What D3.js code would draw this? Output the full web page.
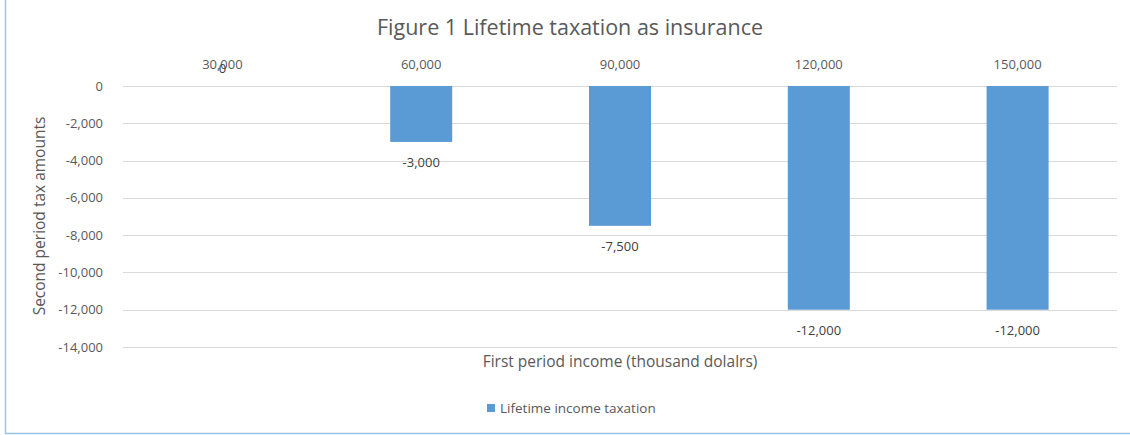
<!doctype html>
<html>
<head>
  <meta charset="utf-8">
  <style type="text/css">
    body { margin: 0; background: #fff; }
    text { font-family: "Open Sans", Lato, sans-serif; fill: #595959; }
    .grid line { stroke: #d9d9d9; stroke-width: 1; shape-rendering: crispEdges; }
    .grid path { display: none; }
  </style>
  <title>Figure 1 Lifetime taxation as insurance</title>
</head>
<body>
<svg class="chart"></svg>

<script type="text/javascript" src="https://cdnjs.cloudflare.com/ajax/libs/d3/7.8.5/d3.min.js"></script>
<script type="text/javascript">

// data
var categories = ["30,000", "60,000", "90,000", "120,000", "150,000"];
var taxValues = [0, -3000, -7500, -12000, -12000];
var yTicks = [0, -2000, -4000, -6000, -8000, -10000, -12000, -14000];

var width = 1130, height = 435,
    margin = { top: 86, left: 123 },
    plotW = 994,
    plotH = 261;

var svg = d3.select(".chart")
  .attr("width", width)
  .attr("height", height);

// outer chart border (blue, left & bottom visible)
svg.append("line").attr("x1", 5.5).attr("x2", 5.5).attr("y1", 0).attr("y2", 433.5)
  .attr("stroke", "#9dc3e6").attr("stroke-width", 1.5);
svg.append("line").attr("x1", 5).attr("x2", width).attr("y1", 433.5).attr("y2", 433.5)
  .attr("stroke", "#9dc3e6").attr("stroke-width", 1.5);

var chart = svg.append("g")
  .attr("transform", "translate(" + margin.left + "," + margin.top + ")");

var band = d3.scaleBand()
  .domain(categories)
  .range([0, plotW]);

var yScale = d3.scaleLinear()
  .domain([0, -14000])
  .range([0, plotH]);

// hyphen instead of unicode minus, like the original
var fmt = function(d) { return d3.format(",")(d).replace("\u2212", "-"); };

// gridlines
chart.append("g")
  .attr("class", "grid")
  .call(d3.axisLeft(yScale).tickValues(yTicks).tickSize(-plotW).tickFormat(""));

// y tick labels
chart.append("g").selectAll("text")
  .data(yTicks)
  .join("text")
  .attr("x", -20)
  .attr("y", function(d) { return yScale(d); })
  .attr("dy", "0.35em")
  .attr("text-anchor", "end")
  .style("font-size", "13px")
  .text(function(d) { return fmt(d); });

// category labels (above the zero line)
chart.append("g").selectAll("text")
  .data(categories)
  .join("text")
  .attr("x", function(d) { return band(d) + band.bandwidth() / 2; })
  .attr("y", -17)
  .attr("text-anchor", "middle")
  .style("font-size", "13px")
  .text(function(d) { return d; });

var barW = 62;
chart.append("g").selectAll("rect")
  .data(taxValues)
  .join("rect")
  .attr("x", function(d, i) { return band(categories[i]) + band.bandwidth() / 2 - barW / 2; })
  .attr("y", function(d) { return yScale(Math.max(0, d)); })
  .attr("width", barW)
  .attr("height", function(d) { return Math.abs(yScale(d) - yScale(0)); })
  .attr("fill", "#5b9bd5");

// data labels
chart.append("g").selectAll("text")
  .data(taxValues)
  .join("text")
  .attr("x", function(d, i) { return band(categories[i]) + band.bandwidth() / 2; })
  .attr("y", function(d) { return d === 0 ? -13 : yScale(d) + 25; })
  .attr("text-anchor", "middle")
  .style("font-size", "13px")
  .style("fill", "#404040")
  .text(function(d) { return fmt(d); });

// title
svg.append("text")
  .attr("x", 570)
  .attr("y", 35)
  .attr("text-anchor", "middle")
  .style("font-size", "21.5px")
  .text("Figure 1 Lifetime taxation as insurance");

// axis titles
svg.append("text")
  .attr("transform", "translate(45,216) rotate(-90)")
  .attr("text-anchor", "middle")
  .style("font-size", "15.5px")
  .text("Second period tax amounts");

svg.append("text")
  .attr("x", 620)
  .attr("y", 367)
  .attr("text-anchor", "middle")
  .style("font-size", "15.5px")
  .text("First period income (thousand dolalrs)");

// legend
var legend = svg.append("g").attr("transform", "translate(487,408)");
legend.append("rect")
  .attr("x", 0).attr("y", -4)
  .attr("width", 8).attr("height", 8)
  .attr("fill", "#5b9bd5");
legend.append("text")
  .attr("x", 13)
  .attr("y", 0)
  .attr("dy", "0.35em")
  .style("font-size", "13.5px")
  .text("Lifetime income taxation");

</script>
</body>
</html>
